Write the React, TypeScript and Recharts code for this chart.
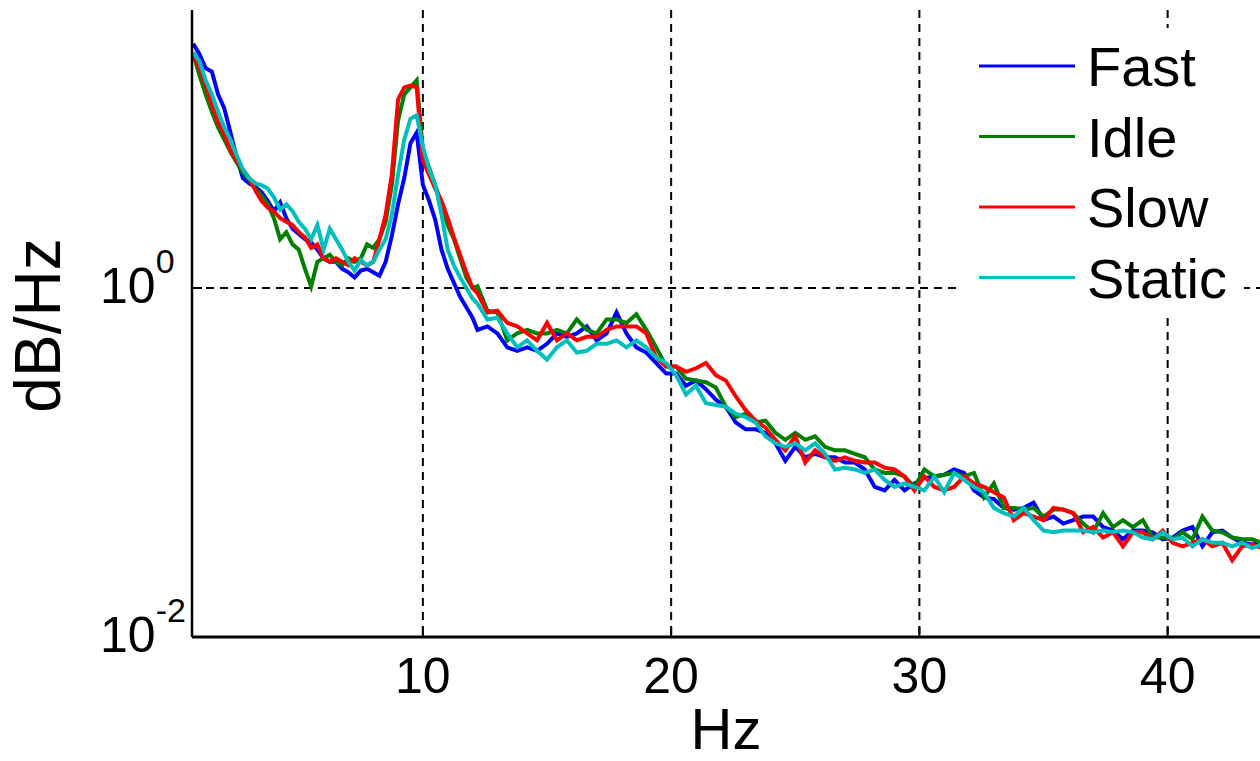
import { LineChart, Line, XAxis, YAxis, CartesianGrid, Legend } from 'recharts';

// frequency bins (Hz); finer spacing across the alpha peak
const freqHz = [
  0.75, 1, 1.25, 1.5, 1.75, 2, 2.25, 2.5, 2.75, 3, 3.25, 3.5, 3.75, 4, 4.25, 4.5, 4.75, 5, 5.25, 5.5,
  5.75, 6, 6.25, 6.5, 6.75, 7, 7.25, 7.5, 7.75, 8, 8.25, 8.5, 8.75, 9, 9.25, 9.5, 9.75, 10, 10.25, 10.5,
  10.75, 11, 11.25, 11.5, 11.75, 12,
  12.2, 12.6, 13, 13.4, 13.8, 14.2, 14.6, 15, 15.4, 15.8, 16.2, 16.6, 17, 17.4, 17.8, 18.2, 18.6, 19, 19.4, 19.8,
  20.2, 20.6, 21, 21.4, 21.8, 22.2, 22.6, 23, 23.4, 23.8, 24.2, 24.6, 25, 25.4, 25.8, 26.2, 26.6, 27, 27.4, 27.8,
  28.2, 28.6, 29, 29.4, 29.8, 30.2, 30.6, 31,
  31.4, 31.8, 32.2, 32.6, 33, 33.4, 33.8, 34.2, 34.6, 35, 35.4, 35.8, 36.2, 36.6, 37, 37.4, 37.8, 38.2, 38.6, 39,
  39.4, 39.8, 40.2, 40.6, 41, 41.4, 41.8, 42.2, 42.6, 43, 43.4, 43.8,
];

// power spectral density, stored as log10 of the value
const fastLog = [
  1.40, 1.34, 1.26, 1.24, 1.11, 1.03, 0.89, 0.75, 0.63, 0.60, 0.58, 0.55, 0.50, 0.44, 0.49, 0.40, 0.34, 0.31, 0.28, 0.26,
  0.22, 0.17, 0.15, 0.15, 0.11, 0.09, 0.06, 0.10, 0.11, 0.09, 0.07, 0.15, 0.30, 0.48, 0.63, 0.83, 0.89, 0.59, 0.50, 0.39,
  0.22, 0.11, 0.03, -0.05, -0.11, -0.17,
  -0.24, -0.22, -0.26, -0.34, -0.36, -0.34, -0.36, -0.32, -0.26, -0.28, -0.26, -0.22, -0.30, -0.26, -0.14, -0.26, -0.34, -0.37, -0.43, -0.49,
  -0.49, -0.56, -0.53, -0.58, -0.64, -0.68, -0.77, -0.81, -0.81, -0.83, -0.89, -0.99, -0.91, -0.97, -0.95, -0.97, -0.97, -1.00, -1.00, -1.04,
  -1.14, -1.16, -1.10, -1.16, -1.12, -1.09, -1.08, -1.07,
  -1.04, -1.06, -1.16, -1.20, -1.21, -1.26, -1.27, -1.26, -1.23, -1.33, -1.31, -1.35, -1.33, -1.31, -1.31, -1.37, -1.39, -1.44, -1.39, -1.39,
  -1.40, -1.44, -1.43, -1.39, -1.37, -1.48, -1.40, -1.39, -1.43, -1.46, -1.47, -1.46,
];

const idleLog = [
  1.34, 1.22, 1.11, 1.01, 0.92, 0.85, 0.78, 0.72, 0.66, 0.62, 0.57, 0.53, 0.48, 0.40, 0.28, 0.32, 0.25, 0.22, 0.11, 0.01,
  0.15, 0.17, 0.19, 0.15, 0.13, 0.17, 0.15, 0.17, 0.25, 0.23, 0.28, 0.38, 0.59, 0.96, 1.11, 1.15, 1.19, 0.79, 0.69, 0.59,
  0.48, 0.36, 0.28, 0.17, 0.06, 0.00,
  0.01, -0.13, -0.14, -0.30, -0.26, -0.24, -0.26, -0.26, -0.24, -0.26, -0.18, -0.24, -0.26, -0.18, -0.18, -0.20, -0.15, -0.24, -0.34, -0.45,
  -0.45, -0.52, -0.53, -0.54, -0.57, -0.68, -0.74, -0.72, -0.77, -0.76, -0.83, -0.87, -0.83, -0.87, -0.85, -0.91, -0.93, -0.93, -0.95, -0.97,
  -1.04, -1.06, -1.06, -1.08, -1.14, -1.04, -1.08, -1.07,
  -1.06, -1.08, -1.06, -1.20, -1.12, -1.26, -1.26, -1.27, -1.26, -1.31, -1.27, -1.27, -1.29, -1.35, -1.40, -1.29, -1.37, -1.33, -1.37, -1.33,
  -1.43, -1.43, -1.44, -1.40, -1.44, -1.31, -1.39, -1.40, -1.43, -1.44, -1.44, -1.46,
];

const slowLog = [
  1.34, 1.26, 1.16, 1.05, 0.95, 0.88, 0.79, 0.73, 0.68, 0.63, 0.56, 0.50, 0.46, 0.44, 0.40, 0.38, 0.36, 0.32, 0.29, 0.23,
  0.25, 0.17, 0.15, 0.17, 0.15, 0.13, 0.17, 0.15, 0.13, 0.15, 0.28, 0.42, 0.65, 1.08, 1.15, 1.16, 1.15, 0.73, 0.65, 0.57,
  0.50, 0.40, 0.29, 0.19, 0.09, 0.00,
  -0.03, -0.14, -0.13, -0.20, -0.22, -0.26, -0.30, -0.20, -0.30, -0.26, -0.30, -0.28, -0.28, -0.24, -0.22, -0.22, -0.22, -0.26, -0.40, -0.45,
  -0.45, -0.48, -0.46, -0.43, -0.50, -0.53, -0.62, -0.70, -0.76, -0.80, -0.87, -0.93, -0.85, -1.00, -0.93, -0.97, -0.99, -0.97, -0.99, -1.00,
  -1.00, -1.03, -1.04, -1.08, -1.16, -1.08, -1.14, -1.16,
  -1.14, -1.08, -1.12, -1.14, -1.17, -1.20, -1.33, -1.29, -1.31, -1.33, -1.26, -1.27, -1.29, -1.40, -1.37, -1.43, -1.40, -1.48, -1.40, -1.40,
  -1.44, -1.39, -1.46, -1.48, -1.46, -1.44, -1.48, -1.46, -1.56, -1.48, -1.47, -1.49,
];

const staticLog = [
  1.35, 1.30, 1.19, 1.11, 1.01, 0.92, 0.85, 0.76, 0.68, 0.63, 0.60, 0.59, 0.57, 0.52, 0.45, 0.48, 0.44, 0.38, 0.34, 0.28,
  0.36, 0.22, 0.34, 0.28, 0.22, 0.15, 0.10, 0.16, 0.13, 0.15, 0.22, 0.28, 0.42, 0.65, 0.85, 0.97, 0.99, 0.81, 0.68, 0.59,
  0.42, 0.22, 0.13, 0.06, 0.00, -0.06,
  -0.09, -0.18, -0.17, -0.26, -0.34, -0.30, -0.36, -0.41, -0.34, -0.30, -0.37, -0.36, -0.32, -0.32, -0.30, -0.34, -0.30, -0.34, -0.40, -0.43,
  -0.50, -0.61, -0.56, -0.66, -0.67, -0.68, -0.72, -0.74, -0.77, -0.85, -0.89, -0.91, -0.89, -0.93, -0.89, -0.95, -1.04, -1.03, -1.04, -1.06,
  -1.04, -1.10, -1.14, -1.12, -1.14, -1.16, -1.08, -1.17,
  -1.06, -1.10, -1.14, -1.17, -1.26, -1.29, -1.31, -1.26, -1.33, -1.39, -1.40, -1.39, -1.39, -1.39, -1.40, -1.39, -1.40, -1.39, -1.40, -1.43,
  -1.44, -1.40, -1.44, -1.43, -1.48, -1.44, -1.46, -1.46, -1.48, -1.46, -1.49, -1.47,
];

const hzTicks = [10, 20, 30, 40];
const powerTicks = [0.01, 1];
const powerGrid = [1];

const FONT = '"Liberation Sans", Arial, Helvetica, sans-serif';

const data = freqHz.map((hz, i) => ({
  hz,
  fast: 10 ** fastLog[i],
  idle: 10 ** idleLog[i],
  slow: 10 ** slowLog[i],
  still: 10 ** staticLog[i],
}));

function PowerTick({ x, y, payload }: any) {
  const exp = Math.round(Math.log10(payload.value));
  return (
    <text x={x - 102} y={y + 15} fontSize={50} fontFamily={FONT} fill="#000">
      10
      <tspan dy={-30} fontSize={34}>{exp}</tspan>
    </text>
  );
}

function HzTick({ x, y, payload }: any) {
  return (
    <text x={x} y={y + 66} textAnchor="middle" fontSize={50} fontFamily={FONT} fill="#000">
      {payload.value}
    </text>
  );
}

function SeriesKey({ payload }: any) {
  return (
    <svg width={282} height={284} style={{ display: 'block' }}>
      {(payload || []).map((item: any, i: number) => (
        <g key={item.value} transform={`translate(0, ${38 + i * 70.5})`}>
          <line x1={17} x2={113} y1={0} y2={0} stroke={item.color} strokeWidth={3} />
          <text x={125} y={20} fontSize={56} fontFamily={FONT} fill="#000">
            {item.value}
          </text>
        </g>
      ))}
    </svg>
  );
}

export default function App() {
  return (
    <div style={{ position: 'absolute', left: 0, top: 0, background: '#fff' }}>
      <LineChart width={1260} height={761} data={data} margin={{ top: 10, right: 0, bottom: 0, left: 0 }}>
        <CartesianGrid
          stroke="#000"
          strokeWidth={2}
          strokeDasharray="8 6"
          horizontalValues={powerGrid}
          verticalValues={hzTicks}
        />
        <XAxis
          dataKey="hz"
          type="number"
          domain={[0.7, 43.72]}
          ticks={hzTicks}
          interval={0}
          allowDataOverflow
          height={124}
          tickSize={-10}
          tickMargin={0}
          axisLine={{ stroke: '#000', strokeWidth: 3 }}
          tickLine={{ stroke: '#000', strokeWidth: 2 }}
          tick={<HzTick />}
          label={({ viewBox }: any) => (
            <text
              x={viewBox.x + viewBox.width / 2}
              y={viewBox.y + 112}
              textAnchor="middle"
              fontSize={58}
              fontFamily={FONT}
              fill="#000"
            >
              Hz
            </text>
          )}
        />
        <YAxis
          scale="log"
          domain={[0.01, 39.2]}
          ticks={powerTicks}
          interval={0}
          allowDataOverflow
          width={192}
          tickSize={-10}
          tickMargin={0}
          axisLine={{ stroke: '#000', strokeWidth: 2.5 }}
          tickLine={{ stroke: '#000', strokeWidth: 2 }}
          tick={<PowerTick />}
          label={({ viewBox }: any) => {
            const cy = viewBox.y + viewBox.height / 2 + 2;
            return (
              <text
                x={60}
                y={cy}
                transform={`rotate(-90, 60, ${cy})`}
                textAnchor="middle"
                fontSize={64}
                fontFamily={FONT}
                fill="#000"
              >
                dB/Hz
              </text>
            );
          }}
        />
        <Line dataKey="fast" name="Fast" stroke="#0000ff" strokeWidth={4} dot={false} isAnimationActive={false} />
        <Line dataKey="idle" name="Idle" stroke="#008000" strokeWidth={4} dot={false} isAnimationActive={false} />
        <Line dataKey="slow" name="Slow" stroke="#ff0000" strokeWidth={4} dot={false} isAnimationActive={false} />
        <Line dataKey="still" name="Static" stroke="#00bfbf" strokeWidth={4} dot={false} isAnimationActive={false} />
        <Legend
          layout="vertical"
          align="center"
          verticalAlign="middle"
          wrapperStyle={{ left: 962, top: 28, width: 282, height: 284, background: '#fff' }}
          content={(props: any) => <SeriesKey {...props} />}
        />
      </LineChart>
    </div>
  );
}
